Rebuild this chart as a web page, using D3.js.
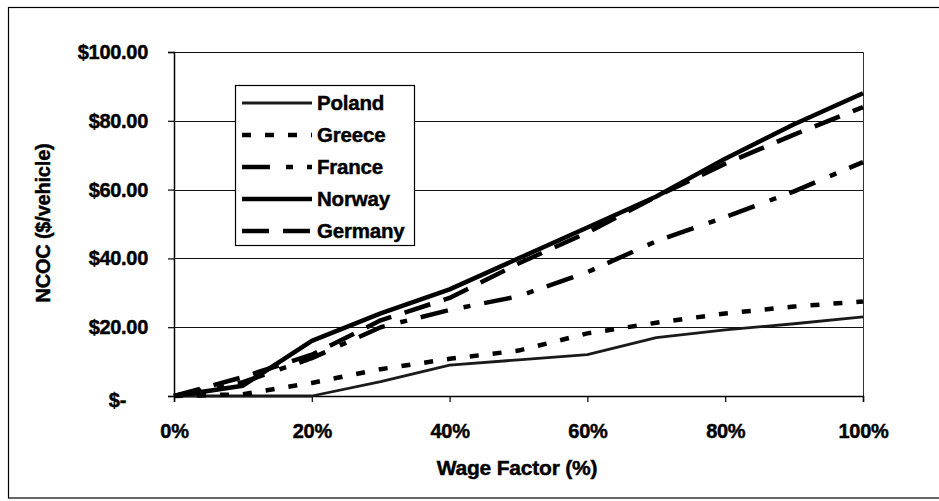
<!DOCTYPE html>
<html>
<head>
<meta charset="utf-8">
<script src="https://cdn.jsdelivr.net/npm/d3@7"></script>
<style>
  html, body { margin: 0; padding: 0; background: #fff; }
  svg { display: block; }
  text { font-family: "Liberation Sans", Arial, sans-serif; font-weight: bold; fill: #000; stroke: #000; stroke-width: 0.45px; }
</style>
</head>
<body>
<svg id="chart" width="939" height="501"></svg>
<script>
// ---- data ----
const wageFactor = [0, 0.1, 0.2, 0.3, 0.4, 0.5, 0.6, 0.7, 0.8, 0.9, 1.0];
const poland  = [0, 0,   0,    4.2,  9,    10.5, 12,   17,   19.2, 21,   23];
const greece  = [0, 0.5, 3.8,  7.8,  10.8, 13.2, 18.2, 21.3, 24,   26,   27.5];
const france  = [0, 4,   11,   20,   25,   29,   36,   45,   52,   59.5, 68];
const norway  = [0, 3,   16,   24,   31,   40,   49,   58,   69,   79,   88];
const germany = [0, 5.5, 12,   22,   28.5, 38.5, 47.5, 58,   67.5, 76,   84];
const seriesNames = ["Poland", "Greece", "France", "Norway", "Germany"];
const xTicks = [0, 0.2, 0.4, 0.6, 0.8, 1.0];
const yTicks = [0, 20, 40, 60, 80, 100];
const xTitle = "Wage Factor (%)";
const yTitle = "NCOC ($/vehicle)";

const seriesValues = [poland, greece, france, norway, germany];
const styles = [
  { w: 2.8, dash: null, color: "#1a1a1a" },
  { w: 4.5, dash: "9,14", color: "#000" },
  { w: 4.5, dash: "28,16,7,14", color: "#000" },
  { w: 4.5, dash: null, color: "#000" },
  { w: 4.5, dash: "27,14", color: "#000" }
];

const svg = d3.select("#chart");
const x = d3.scaleLinear().domain([0, 1]).range([174, 863]);
const y = d3.scaleLinear().domain([0, 100]).range([396, 52]);

// outer frame
svg.append("rect").attr("x", 8.5).attr("y", 7.5).attr("width", 945).attr("height", 490.5)
  .attr("fill", "none").attr("stroke", "#000").attr("stroke-width", 1.2);

// gridlines
svg.append("g").selectAll("line").data(yTicks.filter(d => d > 0)).join("line")
  .attr("x1", x(0)).attr("x2", x(1))
  .attr("y1", d => Math.round(y(d)) + 0.5).attr("y2", d => Math.round(y(d)) + 0.5)
  .attr("stroke", "#111").attr("stroke-width", 1);

// right border of plot area
svg.append("line").attr("x1", x(1) + 0.5).attr("x2", x(1) + 0.5).attr("y1", y(100)).attr("y2", y(0))
  .attr("stroke", "#333").attr("stroke-width", 1);

// y axis
const yAxis = d3.axisLeft(y).tickValues(yTicks).tickSize(6).tickPadding(20)
  .tickFormat(d => d === 0 ? "$-" : "$" + d3.format(".2f")(d));
const gy = svg.append("g").attr("transform", `translate(${x(0)},0)`).call(yAxis);
gy.select(".domain").attr("stroke", "#000").attr("stroke-width", 1.5);
gy.selectAll(".tick line").attr("stroke", "#000").attr("stroke-width", 1.2);
gy.selectAll(".tick text").attr("font-size", 20).attr("font-family", "Liberation Sans, Arial, sans-serif")
  .attr("font-weight", "bold").attr("fill", "#000").attr("letter-spacing", "-0.3")
  .attr("dx", d => d === 0 ? -22 : 0).attr("dy", d => d === 0 ? "0.5em" : "0.32em");

// x axis
const xAxis = d3.axisBottom(x).tickValues(xTicks).tickSize(6).tickPadding(22)
  .tickFormat(d3.format(".0%"));
const gx = svg.append("g").attr("transform", `translate(0,${y(0)})`).call(xAxis);
gx.select(".domain").attr("stroke", "#000").attr("stroke-width", 1.5);
gx.selectAll(".tick line").attr("stroke", "#000").attr("stroke-width", 1.2);
gx.selectAll(".tick text").attr("font-size", 20).attr("font-family", "Liberation Sans, Arial, sans-serif")
  .attr("font-weight", "bold").attr("fill", "#000").attr("letter-spacing", "-0.3");

// lines
const line = d3.line().x((d, i) => x(wageFactor[i])).y(d => y(d));
seriesValues.forEach((vals, k) => {
  const st = styles[k];
  svg.append("path").datum(vals)
    .attr("d", line)
    .attr("fill", "none")
    .attr("stroke", st.color)
    .attr("stroke-width", st.w)
    .attr("stroke-linejoin", "round")
    .attr("stroke-dasharray", st.dash);
});

// legend
const lg = svg.append("g");
lg.append("rect").attr("x", 235.5).attr("y", 85.5).attr("width", 179).attr("height", 160)
  .attr("fill", "#fff").attr("stroke", "#000").attr("stroke-width", 1.2);
seriesNames.forEach((name, k) => {
  const cy = 103 + k * 32;
  const st = styles[k];
  lg.append("line").attr("x1", 242).attr("x2", 312).attr("y1", cy).attr("y2", cy)
    .attr("stroke", st.color).attr("stroke-width", st.w).attr("stroke-dasharray", st.dash);
  lg.append("text").attr("x", 317).attr("y", cy + 7).attr("font-size", 20.5)
    .attr("letter-spacing", "-0.2").text(name);
});

// axis titles
svg.append("text").attr("x", 517).attr("y", 475).attr("text-anchor", "middle")
  .attr("font-size", 21).attr("letter-spacing", "-0.2").text(xTitle);
svg.append("text").attr("transform", "translate(50,223) rotate(-90)").attr("text-anchor", "middle")
  .attr("font-size", 20).attr("letter-spacing", "-0.2").text(yTitle);
</script>
</body>
</html>
